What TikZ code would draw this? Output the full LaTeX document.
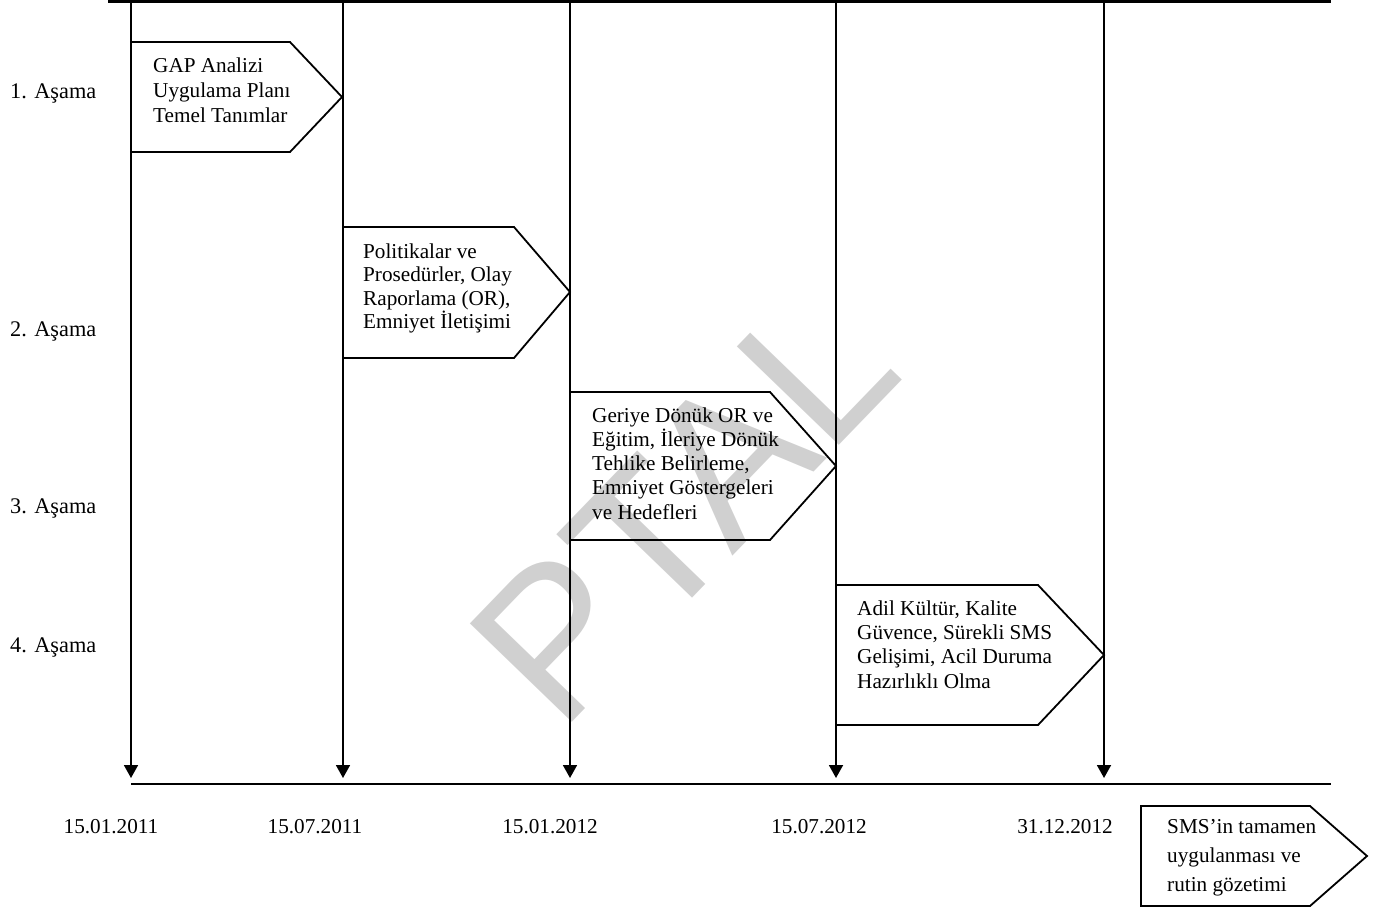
\documentclass[tikz,border=0pt]{standalone}
\usepackage{fontspec}
\setmainfont{Liberation Serif}
\newfontfamily\wmfont{Liberation Sans}
\usetikzlibrary{arrows.meta}
\definecolor{wmgray}{RGB}{208,208,208}
\tikzset{
  vline/.style={line width=1.8pt,-{Triangle[length=13pt,width=14pt]}},
  hline/.style={line width=2pt},
  topline/.style={line width=2.6pt},
  chev/.style={line width=1.8pt,line join=miter},
  lbl/.style={inner sep=0pt,anchor=base west,font=\fontsize{22.3}{26}\selectfont},
  datelbl/.style={inner sep=0pt,anchor=base,font=\fontsize{21.2}{25}\selectfont},
  boxtxt/.style={inner sep=0pt,anchor=north west,align=left}
}
\begin{document}
\begin{tikzpicture}[x={(1pt,0)},y={(0,-1pt)}]
\useasboundingbox (0,0) rectangle (1386,911);
% watermark
\node[inner sep=0pt,anchor=base west,rotate=46,text=wmgray,font=\wmfont\fontsize{206}{206}\selectfont] (wm) at (560,735) {PTAL};
% top and bottom lines
\coordinate (tl) at (108,1.3);
\coordinate (tr) at (1331,1.3);
\draw[topline] (tl) -- (tr);
\coordinate (bl) at (131,784);
\coordinate (br) at (1331,784);
\draw[hline] (bl) -- (br);
% vertical arrows
\foreach \i/\x in {1/131,2/343,3/570,4/836,5/1104}{
  \coordinate (t\i) at (\x,0);
  \coordinate (b\i) at (\x,778);
  \draw[vline] (t\i) -- (b\i);
}
% chevron boxes
\draw[chev] (131,42) -- (290,42) -- (342,97) -- (290,152) -- (131,152);
\draw[chev] (343,227) -- (514,227) -- (570,292) -- (514,358) -- (343,358);
\draw[chev] (570,392) -- (770,392) -- (836,466) -- (770,540) -- (570,540);
\draw[chev] (836,585) -- (1038,585) -- (1104,655) -- (1038,725) -- (836,725);
\draw[chev] (1141,806) -- (1310,806) -- (1367,856) -- (1310,906) -- (1141,906) -- cycle;
% box texts
\node[boxtxt,font=\fontsize{21.2}{25}\selectfont] (x1) at (153,56) {\rule{0pt}{16pt}GAP Analizi\\Uygulama Planı\\Temel Tanımlar};
\node[boxtxt,font=\fontsize{21.2}{23.5}\selectfont] (x2) at (363,242) {\rule{0pt}{16pt}Politikalar ve\\Prosedürler, Olay\\Raporlama (OR),\\Emniyet İletişimi};
\node[boxtxt,font=\fontsize{21.2}{24.2}\selectfont] (x3) at (592,406) {\rule{0pt}{16pt}Geriye Dönük OR ve\\Eğitim, İleriye Dönük\\Tehlike Belirleme,\\Emniyet Göstergeleri\\ve Hedefleri};
\node[boxtxt,font=\fontsize{21.2}{24.3}\selectfont] (x4) at (857,599) {\rule{0pt}{16pt}Adil Kültür, Kalite\\Güvence, Sürekli SMS\\Gelişimi, Acil Duruma\\Hazırlıklı Olma};
\node[boxtxt,font=\fontsize{21.2}{29}\selectfont] (x5) at (1167,817) {\rule{0pt}{16pt}SMS’in tamamen\\uygulanması ve\\rutin gözetimi};
% stage labels
\node[lbl] (s1) at (10,98) {1. Aşama};
\node[lbl] (s2) at (10,336) {2. Aşama};
\node[lbl] (s3) at (10,513) {3. Aşama};
\node[lbl] (s4) at (10,652) {4. Aşama};
% dates
\node[datelbl] (d1) at (111,833) {15.01.2011};
\node[datelbl] (d2) at (315,833) {15.07.2011};
\node[datelbl] (d3) at (550,833) {15.01.2012};
\node[datelbl] (d4) at (819,833) {15.07.2012};
\node[datelbl] (d5) at (1065,833) {31.12.2012};
\end{tikzpicture}
\end{document}
